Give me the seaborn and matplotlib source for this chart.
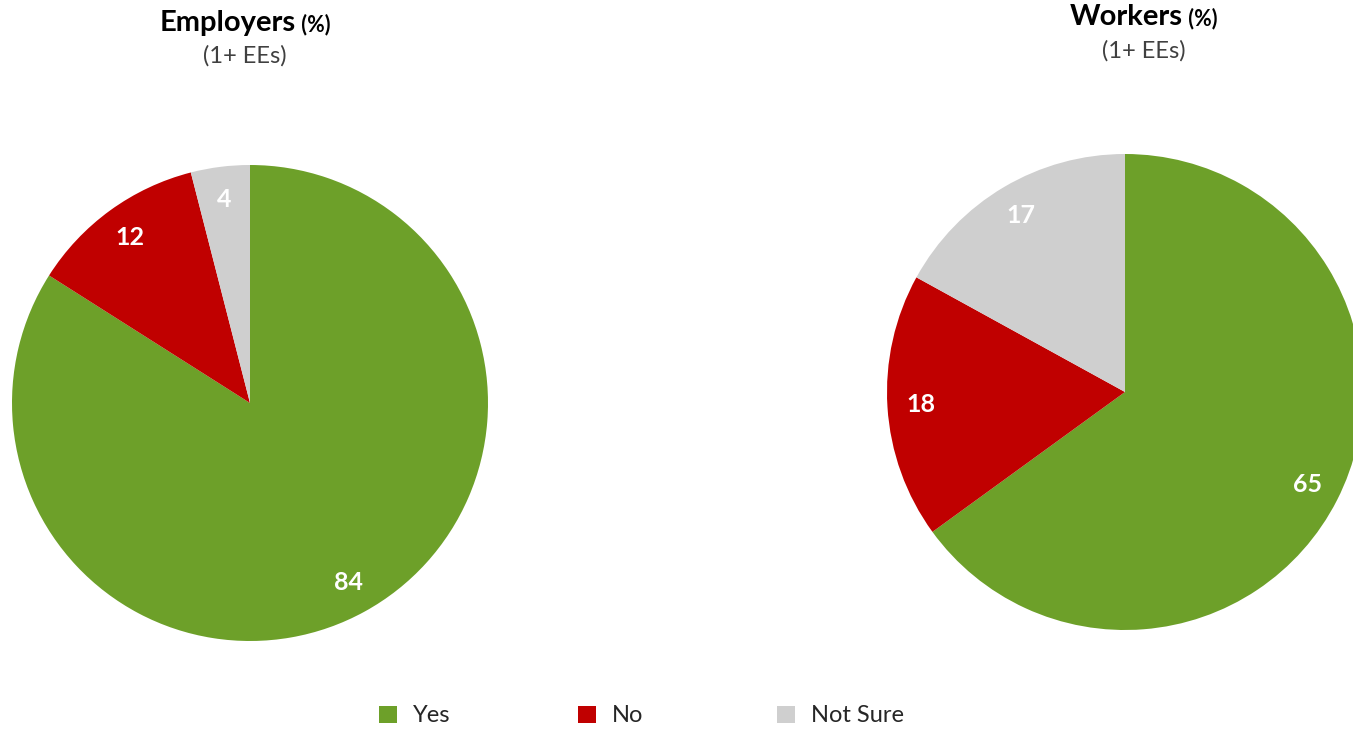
import matplotlib
matplotlib.use("Agg")
import matplotlib.pyplot as plt
from matplotlib.patches import Patch
import seaborn as sns

categories = ["Yes", "No", "Not Sure"]
employers = [84, 12, 4]
workers = [65, 18, 17]
colors = ["#6DA029", "#C00000", "#CFCFCF"]

sns.set_theme(style="white")
plt.rcParams["font.family"] = ["Lato", "DejaVu Sans"]

W, H = 1353, 730
fig = plt.figure(figsize=(W / 100, H / 100), dpi=100)

def add_pie(cx, cy, r, values):
    ax = fig.add_axes([(cx - r) / W, (H - (cy + r)) / H, 2 * r / W, 2 * r / H])
    wedges, texts = ax.pie(values, colors=colors, startangle=90, counterclock=False,
                           labels=[str(v) for v in values], labeldistance=0.86,
                           wedgeprops=dict(linewidth=0),
                           textprops=dict(color="white", fontsize=18, fontweight="bold"))
    for t in texts:
        t.set_ha("center")
        t.set_va("center")
    ax.set_xlim(-1, 1)
    ax.set_ylim(-1, 1)
    ax.set_aspect("equal")
    ax.axis("off")
    return ax

add_pie(250, 403, 238, employers)
add_pie(1125, 392, 238, workers)

renderer = fig.canvas.get_renderer()

def title(cx, y_main, y_sub, main):
    t1 = fig.text(0, 1 - y_main / H, main, ha="left", va="baseline",
                  fontsize=21, fontweight="bold", color="black")
    t2 = fig.text(0, 1 - y_main / H, " (%)", ha="left", va="baseline",
                  fontsize=15.5, fontweight="bold", color="black")
    w1 = t1.get_window_extent(renderer).width
    w2 = t2.get_window_extent(renderer).width
    x0 = cx - (w1 + w2) / 2
    t1.set_x(x0 / W)
    t2.set_x((x0 + w1) / W)
    fig.text(cx / W, 1 - y_sub / H, "(1+ EEs)", ha="center", va="baseline",
             fontsize=17, color="#404040")

title(245, 31, 63, "Employers")
title(1144, 25, 58, "Workers")

for i, (c, l) in enumerate(zip(colors, categories)):
    h = Patch(facecolor=c, edgecolor="none", label=l)
    fig.legend(handles=[h], loc="center left",
               bbox_to_anchor=((379 + 199 * i) / W, 1 - 716 / H),
               frameon=False, fontsize=17, handlelength=0.75, handleheight=0.75,
               handletextpad=0.7, borderpad=0, borderaxespad=0)

fig.savefig("out.png", dpi=100)
